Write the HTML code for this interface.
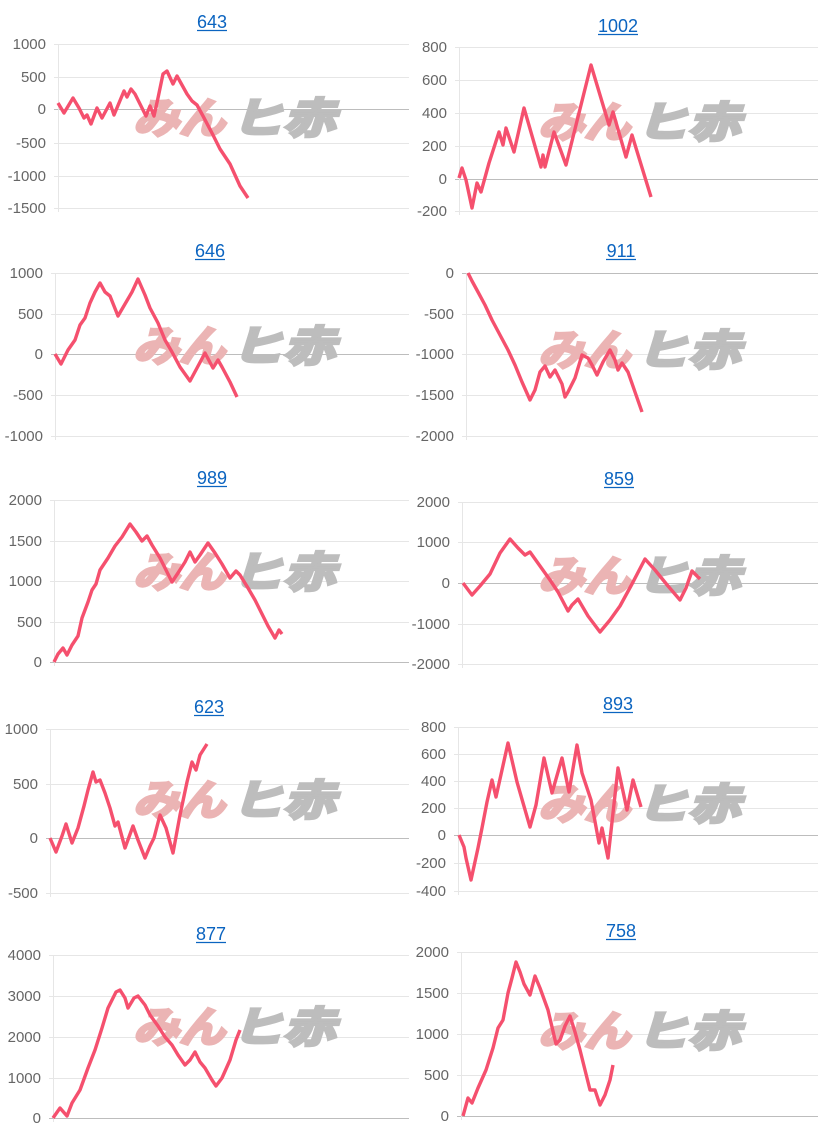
<!DOCTYPE html>
<html><head><meta charset="utf-8"><style>
html,body{margin:0;padding:0;background:#fff;width:818px;height:1140px;overflow:hidden}
svg{display:block}
</style></head><body>
<svg id="s" width="818" height="1140" xmlns="http://www.w3.org/2000/svg" font-family="Liberation Sans, sans-serif"></svg>
<script>
var charts=[
{t:"643",tx:212,ty:28,L:58,R:409,labels:["1000","500","0","-500","-1000","-1500"],g:[44,77,109,143,176,208],zero:2,pts:"58,103 64,113 73,98 79,108 84,118 87,115 91,124 97,108 102,118 110,103 114,115 124,91 127,97 131,89 135,94 146,116 150,106 154,116 158,98 163,74 167,71 173,84 177,76 187,94 192,101 197,105 203,116 213,135 220,149 230,164 240,186 248,198"},
{t:"1002",tx:618,ty:32,L:459,R:818,labels:["800","600","400","200","0","-200"],g:[47,80,113,146,179,211],zero:4,pts:"459,178 462,168 466,180 472,208 477,183 481,192 489,163 499,132 503,145 506,128 514,152 524,108 541,167 543,155 545,167 554,132 566,165 591,65 609,125 613,112 626,157 632,135 651,197"},
{t:"646",tx:210,ty:257,L:55,R:409,labels:["1000","500","0","-500","-1000"],g:[273,314,354,395,436],zero:2,pts:"55,354 61,364 68,350 75,340 80,325 85,318 90,303 95,292 100,283 105,292 110,296 118,316 125,304 132,292 138,279 145,295 150,308 158,323 165,340 172,352 180,367 190,381 197,368 205,353 213,368 218,360 222,367 230,382 237,397"},
{t:"911",tx:621,ty:257,L:466,R:818,labels:["0","-500","-1000","-1500","-2000"],g:[273,314,354,395,436],zero:0,pts:"468,273 472,281 478,292 485,305 492,320 500,335 508,350 515,365 522,382 530,400 535,390 540,372 545,366 550,377 555,370 562,384 565,397 568,392 575,378 582,355 588,358 592,365 597,375 603,362 610,350 615,360 618,370 622,363 628,372 635,392 642,412"},
{t:"989",tx:212,ty:484,L:54,R:409,labels:["2000","1500","1000","500","0"],g:[500,541,581,622,662],zero:4,pts:"54,662 58,654 63,648 67,655 72,645 78,636 82,618 88,602 92,590 96,584 100,570 108,558 115,546 122,537 130,524 136,532 142,541 147,536 152,545 160,558 166,570 172,582 178,573 185,562 190,552 195,562 200,555 204,549 208,543 215,553 222,564 230,578 236,571 240,575 248,588 255,600 262,614 268,626 275,638 279,630 282,634"},
{t:"859",tx:619,ty:485,L:462,R:818,labels:["2000","1000","0","-1000","-2000"],g:[502,542,583,624,664],zero:2,pts:"463,583 472,595 480,586 490,574 500,553 510,539 518,548 525,555 530,552 540,566 550,580 558,592 568,611 572,605 578,599 588,616 600,632 610,620 620,606 632,584 645,559 655,570 668,586 680,600 686,588 692,571 700,579"},
{t:"623",tx:209,ty:713,L:50,R:409,labels:["1000","500","0","-500"],g:[729,784,838,893],zero:2,pts:"50,838 56,852 62,836 66,824 72,843 78,828 84,806 88,790 93,772 96,782 100,780 105,793 110,808 115,826 118,822 125,848 133,826 138,840 145,858 150,846 154,838 160,815 166,828 173,853 180,815 187,782 192,762 196,770 200,755 207,744"},
{t:"893",tx:618,ty:710,L:458,R:818,labels:["800","600","400","200","0","-200","-400"],g:[727,754,781,808,835,863,891],zero:4,pts:"459,835 464,847 466,858 471,880 478,848 482,828 487,802 492,780 496,797 502,770 508,743 517,782 530,827 536,805 544,758 552,793 562,758 569,792 577,745 582,773 591,800 599,843 602,828 608,858 618,768 627,810 633,780 641,807"},
{t:"877",tx:211,ty:940,L:53,R:409,labels:["4000","3000","2000","1000","0"],g:[955,996,1037,1078,1118],zero:4,pts:"53,1118 60,1108 67,1116 72,1103 80,1090 88,1068 95,1050 102,1028 108,1008 112,1000 116,992 120,990 125,998 128,1008 134,998 138,996 145,1005 150,1015 158,1026 165,1037 172,1045 178,1055 185,1065 190,1060 195,1052 200,1062 205,1068 212,1080 216,1086 222,1078 230,1060 236,1040 240,1030"},
{t:"758",tx:621,ty:937,L:461,R:818,labels:["2000","1500","1000","500","0"],g:[952,993,1034,1075,1116],zero:4,pts:"463,1116 468,1098 472,1103 478,1088 486,1070 493,1048 498,1028 503,1020 508,993 512,978 516,962 520,972 524,984 530,995 535,976 540,988 548,1010 556,1044 560,1040 565,1026 570,1016 575,1032 580,1050 585,1070 590,1090 595,1090 600,1105 605,1095 610,1080 613,1065"}
];
var h="";
charts.forEach(function(c,i){
  var right=c.L>300;
  var gtop=c.g[0],gb=c.g[c.g.length-1];
  h+='<text x="'+c.tx+'" y="'+c.ty+'" text-anchor="middle" font-size="18" fill="#0b64c0">'+c.t+'</text>';
  var tw=c.t.length*10;
  h+='<line x1="'+(c.tx-tw/2)+'" x2="'+(c.tx+tw/2)+'" y1="'+(c.ty+2.5)+'" y2="'+(c.ty+2.5)+'" stroke="#0b64c0" stroke-width="1.2"/>';
  c.g.forEach(function(y,k){
    h+='<line x1="'+(c.L-4)+'" x2="'+c.R+'" y1="'+(y+.5)+'" y2="'+(y+.5)+'" stroke="'+(k==c.zero?'#bdbdbd':'#e6e6e6')+'" stroke-width="1"/>';
    h+='<text x="'+(c.L-12)+'" y="'+(y+5)+'" text-anchor="end" font-size="15" fill="#666">'+c.labels[k]+'</text>';
  });
  h+='<line x1="'+(c.L+.5)+'" x2="'+(c.L+.5)+'" y1="'+gtop+'" y2="'+(gb+4)+'" stroke="#e6e6e6"/>';
  var wx=right?538:133, wy=[97,325,551,779,1006][Math.floor(i/2)]+(right?4:0);
  h+='<text x="'+wx+'" y="'+(wy+36)+'" font-size="42" font-weight="bold" font-style="italic" fill="#ebb4b4" stroke="#ebb4b4" stroke-width="3" font-family="Liberation Sans, Noto Sans CJK JP, sans-serif" textLength="92" lengthAdjust="spacingAndGlyphs">みん</text>';
  h+='<text x="'+(wx+98)+'" y="'+(wy+36)+'" font-size="42" font-weight="bold" font-style="italic" fill="#bdbdbd" stroke="#bdbdbd" stroke-width="3" font-family="Liberation Sans, Noto Sans CJK JP, sans-serif" textLength="104" lengthAdjust="spacingAndGlyphs">ヒ赤</text>';
  h+='<polyline points="'+c.pts+'" fill="none" stroke="#f5506e" stroke-width="3.4" stroke-linejoin="round"/>';
});
document.getElementById("s").innerHTML=h;
</script>
</body></html>
